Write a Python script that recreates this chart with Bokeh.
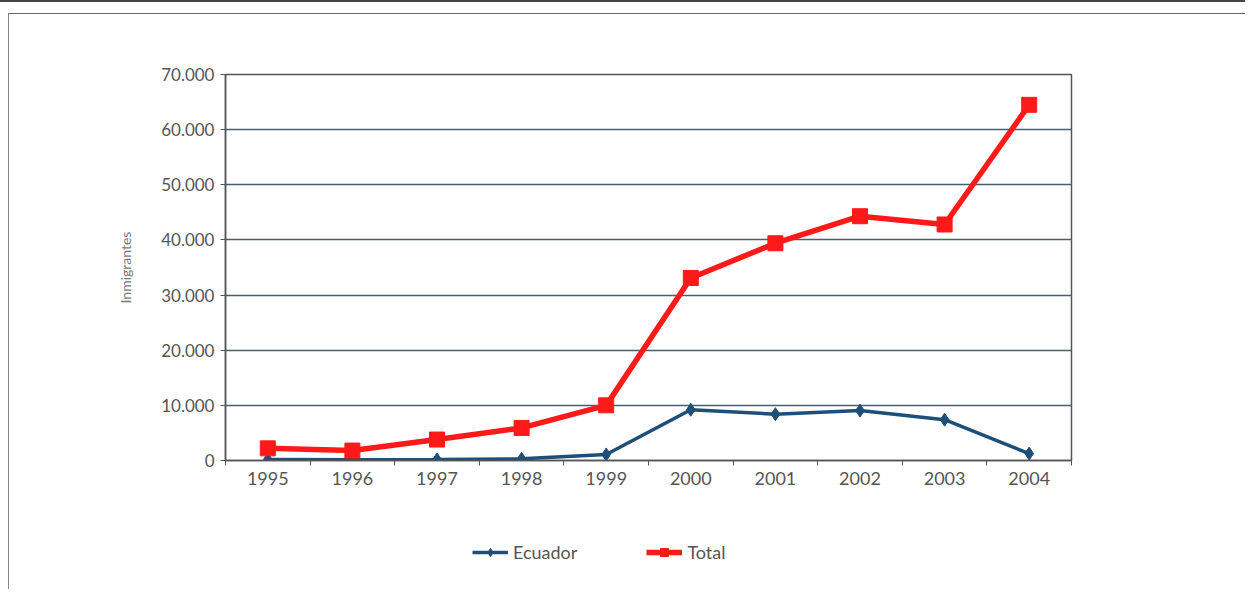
from bokeh.plotting import figure
from bokeh.layouts import column
from bokeh.models import FixedTicker, Legend, LegendItem, Range1d
from bokeh.embed import file_html
from bokeh.resources import INLINE

years = ["1995", "1996", "1997", "1998", "1999", "2000", "2001", "2002", "2003", "2004"]
total = [2200, 1800, 3800, 5900, 10000, 33100, 39400, 44300, 42800, 64500]
ecuador = [200, 150, 200, 300, 1100, 9200, 8400, 9050, 7400, 1250]
y_ticks = [0, 10000, 20000, 30000, 40000, 50000, 60000, 70000]

x = list(range(len(years)))
font = "Lato"
EC_COLOR = "#1d4f78"
TO_COLOR = "#ff1a1a"

p = figure(width=1236, height=486, output_backend="svg", toolbar_location=None,
           x_range=Range1d(-0.5, len(years) - 0.5), y_range=Range1d(0, 70000),
           min_border_left=216, min_border_right=174, min_border_top=60, min_border_bottom=40)
p.background_fill_color = "white"
p.border_fill_color = "white"
p.outline_line_color = "#555555"
p.outline_line_width = 1.5

p.xaxis.ticker = FixedTicker(ticks=x, minor_ticks=[i - 0.5 for i in range(len(years) + 1)])
p.xaxis.major_label_overrides = {i: y for i, y in enumerate(years)}
p.xaxis.major_tick_out = 0
p.xaxis.major_tick_in = 0
p.xaxis.minor_tick_out = 5
p.xaxis.minor_tick_in = 0
p.xaxis.axis_line_color = "#555555"
p.xaxis.axis_line_width = 1.5
p.xaxis.minor_tick_line_color = "#555555"
p.xaxis.major_label_text_font = font
p.xaxis.major_label_text_font_size = "18px"
p.xaxis.major_label_text_color = "#555555"
p.xaxis.major_label_standoff = 6

p.yaxis.ticker = FixedTicker(ticks=y_ticks, minor_ticks=[])
p.yaxis.major_label_overrides = {v: (f"{v:,}".replace(",", ".")) for v in y_ticks}
p.yaxis.major_tick_out = 5
p.yaxis.major_tick_in = 0
p.yaxis.axis_line_color = "#555555"
p.yaxis.axis_line_width = 1.5
p.yaxis.major_tick_line_color = "#555555"
p.yaxis.major_label_text_font = font
p.yaxis.major_label_text_font_size = "17px"
p.yaxis.major_label_text_color = "#555555"
p.yaxis.major_label_standoff = 6
p.yaxis.axis_label = "Inmigrantes"
p.yaxis.axis_label_text_font = font
p.yaxis.axis_label_text_font_size = "14px"
p.yaxis.axis_label_text_font_style = "normal"
p.yaxis.axis_label_text_color = "#777777"
p.yaxis.axis_label_standoff = 24

p.xgrid.grid_line_color = None
p.ygrid.ticker = FixedTicker(ticks=y_ticks)
p.ygrid.grid_line_color = "#4a5e6c"
p.ygrid.grid_line_width = 1.5

p.line(x, ecuador, line_color=EC_COLOR, line_width=3.5)
p.scatter(x, ecuador, marker="diamond", size=13, fill_color=EC_COLOR, line_color=EC_COLOR)
p.line(x, total, line_color=TO_COLOR, line_width=5.5)
p.scatter(x, total, marker="square", size=15, fill_color=TO_COLOR, line_color=TO_COLOR)

# legend-only strip below the chart (its glyphs sit outside the visible range)
p2 = figure(width=1236, height=89, output_backend="svg", toolbar_location=None,
            x_range=Range1d(0, 1), y_range=Range1d(0, 1),
            x_axis_location=None, y_axis_location=None,
            min_border_left=0, min_border_right=0, min_border_top=0, min_border_bottom=0)
p2.grid.visible = False
p2.outline_line_color = None
p2.border_fill_color = "white"
off = [-10, -9]
l_ec = p2.line(off, off, line_color=EC_COLOR, line_width=3.5)
m_ec = p2.scatter(off, off, marker="diamond", size=10, fill_color=EC_COLOR, line_color=EC_COLOR)
l_to = p2.line(off, off, line_color=TO_COLOR, line_width=5.5)
m_to = p2.scatter(off, off, marker="square", size=11, fill_color=TO_COLOR, line_color=TO_COLOR)
legend = Legend(items=[LegendItem(label="Ecuador", renderers=[l_ec, m_ec]),
                       LegendItem(label="Total", renderers=[l_to, m_to])],
                orientation="horizontal", location=(247, 26),
                border_line_color=None, background_fill_alpha=0,
                label_text_font=font, label_text_font_size="18px",
                label_text_color="#555555", spacing=69, glyph_width=36)
p2.add_layout(legend)

inner = column(p, p2, spacing=0,
               styles={"border-top": "1.5px solid #666", "border-left": "1.5px solid #888",
                       "margin-top": "11px", "margin-left": "8px"})
outer = column(inner, spacing=0, styles={"border-top": "2px solid #444"})

open("out.html", "w").write(file_html(outer, INLINE))
